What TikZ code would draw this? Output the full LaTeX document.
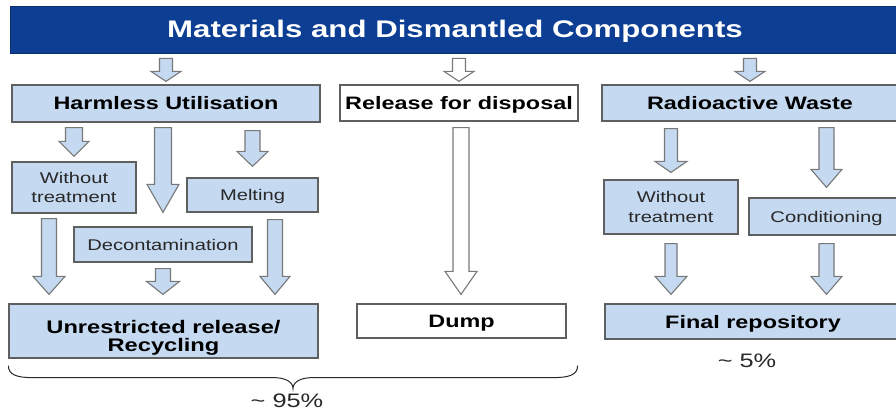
\documentclass[tikz,border=0pt]{standalone}
\usepackage{fontspec}
\newfontfamily\wsf{Liberation Sans}[FakeStretch=1.3]
\usetikzlibrary{calc}

\definecolor{titleblue}{RGB}{12,62,148}
\definecolor{boxblue}{RGB}{197,217,241}
\definecolor{edgegray}{RGB}{95,95,95}
\definecolor{arrowgray}{RGB}{120,120,120}
\definecolor{textgray}{RGB}{40,40,40}

\tikzset{
  box/.style={draw=edgegray, line width=1.2pt, inner sep=0pt, align=center},
  bluebox/.style={box, fill=boxblue},
  whitebox/.style={box, fill=white},
  hdtext/.style={font=\wsf\bfseries\fontsize{18}{18}\selectfont, text height=13pt, text depth=0pt},
  subtext/.style={font=\wsf\fontsize{15.5}{19.4}\selectfont, text=textgray},
  subone/.style={subtext, text height=11pt, text depth=0pt},
  pcttext/.style={font=\wsf\fontsize{19.5}{22}\selectfont, text=textgray, inner sep=0pt, text height=14pt, text depth=0pt},
  % hollow block arrow drawn between two points sharing the start's x
  ashaft/.store in=\bsw, ahead/.store in=\bhw, alen/.store in=\bhl,
  ashaft=7.5, ahead=15.5, alen=18,
  barrow/.style={draw=arrowgray, line width=1.1pt, line join=miter, fill=#1,
    to path={let \p1=(\tikztostart), \p2=(\tikztotarget) in
      (\x1-\bsw pt,\y1) -- (\x1+\bsw pt,\y1) -- (\x1+\bsw pt,\y2+\bhl pt)
      -- (\x1+\bhw pt,\y2+\bhl pt) -- (\x1,\y2) -- (\x1-\bhw pt,\y2+\bhl pt)
      -- (\x1-\bsw pt,\y2+\bhl pt) -- cycle}},
  barrow/.default=boxblue,
  bracestyle/.style={draw=textgray, line width=1pt},
}

\begin{document}
\begin{tikzpicture}[x=1pt,y=-1pt]
\useasboundingbox (0,0) rectangle (896,414);
\clip (0,0) rectangle (896,414);

% heading bar
\node[fill=titleblue, draw=titleblue!75!black, line width=0.8pt, inner sep=0pt,
      minimum width=890pt, minimum height=47pt, text=white,
      font=\wsf\bfseries\fontsize{24}{28}\selectfont, text height=17pt, text depth=0pt]
  (title) at (455,29.5) {Materials and Dismantled Components};

% three main routes
\node[bluebox, hdtext, minimum width=308pt, minimum height=37pt] (harm) at (166,103.5) {Harmless Utilisation};
\node[whitebox, hdtext, minimum width=238pt, minimum height=36pt] (rel) at (459,103) {Release for disposal};
\node[bluebox, hdtext, minimum width=296pt, minimum height=36pt] (rad) at (750,103) {Radioactive Waste};

% treatment steps
\node[bluebox, subtext, minimum width=124pt, minimum height=51pt] (wt1) at (74,187.5) {Without\\treatment};
\node[bluebox, subone, minimum width=131pt, minimum height=34pt] (melt) at (252.5,195) {Melting};
\node[bluebox, subone, minimum width=178pt, minimum height=35pt] (decon) at (163,244.5) {Decontamination};
\node[bluebox, subtext, minimum width=134pt, minimum height=54pt] (wt2) at (671,207) {Without\\treatment};
\node[bluebox, subone, minimum width=155pt, minimum height=37pt] (cond) at (826.5,216.5) {Conditioning};

% destinations
\node[bluebox, minimum width=309pt, minimum height=54pt] (unr) at (163.5,331) {};
\node[align=center, inner sep=0pt, font=\wsf\bfseries\fontsize{18.2}{17.7}\selectfont]
  (unrt) at ([yshift=-7pt]unr.center) {Unrestricted release/\\Recycling};
\node[whitebox, hdtext, minimum width=209pt, minimum height=34pt] (dump) at (461.5,321) {Dump};
\node[bluebox, hdtext, minimum width=296pt, minimum height=35pt] (fin) at (753,321.5) {Final repository};

% arrows from the heading
\draw[barrow, ashaft=6.5, ahead=15, alen=10] ([yshift=-5pt]title.south -| harm.north) to ([yshift=3pt]harm.north);
\draw[barrow=white, ashaft=6.5, ahead=15, alen=10] ([yshift=-5pt]title.south -| rel.north) to ([yshift=3pt]rel.north);
\draw[barrow, ashaft=6.5, ahead=15, alen=10] ([yshift=-5pt]title.south -| rad.north) to ([yshift=3pt]rad.north);

% harmless utilisation branch
\draw[barrow, ashaft=8.5, ahead=15, alen=15] ([yshift=-5pt]harm.south -| wt1.north) to ([yshift=5pt]wt1.north);
\draw[barrow, ashaft=8.5, ahead=16, alen=28] ([yshift=-5pt]harm.south -| decon.north) to ([yshift=14pt]decon.north);
\draw[barrow, ashaft=7.5, ahead=15.5, alen=15] ([yshift=-8pt]harm.south -| melt.north) to ([yshift=11pt]melt.north);
\draw[barrow, ashaft=7.5, ahead=16, alen=18] ([xshift=-25pt,yshift=-5pt]wt1.south) to ([yshift=9pt]unr.north);
\draw[barrow, ashaft=7.5, ahead=16.5, alen=13] ([yshift=-6pt]decon.south) to ([yshift=9pt]unr.north);
\draw[barrow, ashaft=7.5, ahead=15, alen=18] ([xshift=22.5pt,yshift=-7pt]melt.south) to ([yshift=9pt]unr.north);

% release for disposal
\draw[barrow=white, ashaft=8, ahead=16, alen=23] ([xshift=2pt,yshift=-6pt]rel.south) to ([yshift=9pt]dump.north);

% radioactive waste branch
\draw[barrow, ashaft=6.5, ahead=16, alen=11] ([yshift=-7pt]rad.south -| wt2.north) to ([yshift=7pt]wt2.north);
\draw[barrow, ashaft=7.5, ahead=15.5, alen=18] ([yshift=-6pt]rad.south -| cond.north) to ([yshift=10pt]cond.north);
\draw[barrow, ashaft=6, ahead=16, alen=18] ([yshift=-9pt]wt2.south) to ([yshift=9pt]fin.north);
\draw[barrow, ashaft=7.5, ahead=15.5, alen=18] ([yshift=-8pt]cond.south) to ([yshift=9pt]fin.north);

% curly brace under the first two routes
\coordinate (bl) at ([yshift=-7pt]unr.south west);
\coordinate (br) at ($(dump.south east |- bl)+(11,0)$);
\coordinate (bm) at ($(bl)!0.5!(br)$);
\draw[bracestyle]
  (bl) .. controls ($(bl)+(0,9)$) and ($(bl)+(8,12)$) .. ($(bl)+(24,12)$)
  -- ($(bm)+(-20,12)$) .. controls ($(bm)+(-8,12)$) and ($(bm)+(0,16)$) .. ($(bm)+(0,23)$)
  .. controls ($(bm)+(0,16)$) and ($(bm)+(8,12)$) .. ($(bm)+(20,12)$)
  -- ($(br)+(-24,12)$) .. controls ($(br)+(-8,12)$) and ($(br)+(0,9)$) .. (br);
\node[pcttext] (p95) at (287,400.5) {\textasciitilde\ 95\%};
\node[pcttext] (p5) at (747,360) {\textasciitilde\ 5\%};
\end{tikzpicture}
\end{document}
